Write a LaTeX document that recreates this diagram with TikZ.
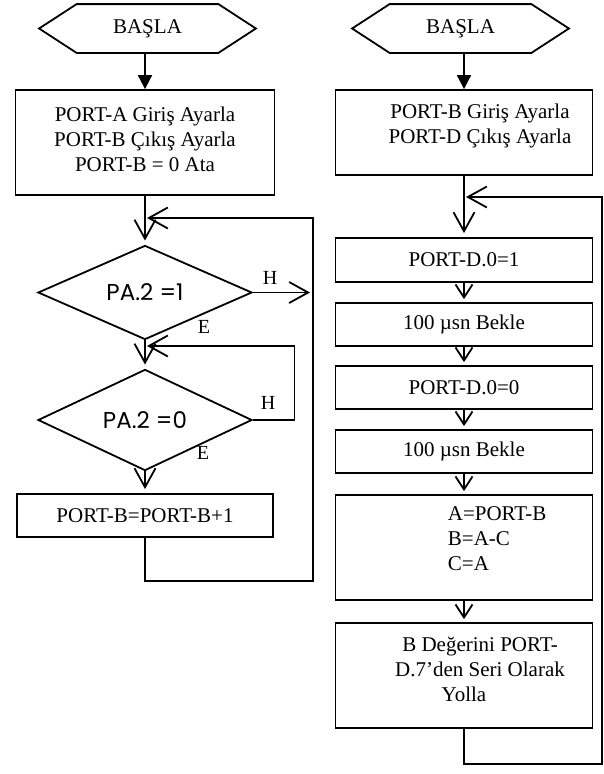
\documentclass[tikz,border=0pt]{standalone}
\usepackage{fontspec}
\setmainfont{Liberation Serif}
\newfontfamily\gothic{Poppins}
\usetikzlibrary{arrows.meta,shapes.geometric}

\begin{document}
\begin{tikzpicture}[x=1pt,y=-1pt,
  line width=1.8pt,
  every node/.style={font=\fontsize{21}{25}\selectfont},
  box/.style={draw, rectangle, inner sep=0pt},
  txt/.style={inner sep=0pt, align=center},
  decision/.style={draw, diamond, inner sep=0pt, font=\gothic\fontsize{23}{27}\selectfont},
  tag/.style={inner sep=0pt, font=\fontsize{20}{24}\selectfont},
  startbox/.style={rectangle, inner sep=0pt, minimum width=140, minimum height=47},
  filled/.style={-{Triangle[length=14pt,width=14pt]}},
  flow/.style={-{Straight Barb[length=19pt,width=21pt]}},
  small/.style={-{Straight Barb[length=13pt,width=17pt]}, shorten >=3pt},
]
\useasboundingbox (0,0) rectangle (604,774);

% ---------- left flowchart ----------
\node[startbox] (s1) at (147.5,28.5) {BAŞLA};
\draw (s1.north west) -- (s1.north east) -- ([xshift=37.5pt]s1.east)
      -- (s1.south east) -- (s1.south west) -- ([xshift=-37.5pt]s1.west) -- cycle;

\node[box, minimum width=259, minimum height=105] (b1) at (145,142.5) {};
\node[txt] (b1t) at (145,139) {PORT-A Giriş Ayarla\\PORT-B Çıkış Ayarla\\PORT-B = 0 Ata};

\coordinate (j1) at (145,218);
\node[decision, minimum width=214, minimum height=63] (d1) at (145,292.5) {PA.2 =1};
\coordinate (hend) at (310,292.5);
\coordinate (j2) at (145,346);
\node[decision, minimum width=214, minimum height=62] (d2) at (145,420) {PA.2 =0};
\node[box, minimum width=256, minimum height=43] (b2) at (145,515.5) {PORT-B=PORT-B+1};

\node[tag] (h1) at (270,278) {H};
\node[tag] (e1) at (204,327) {E};
\node[tag] (h2) at (268,403) {H};
\node[tag] (e2) at (203,453) {E};

\draw[filled] (s1.south -| b1.north) -- (b1.north);
\draw (b1.south) -- (j1);
\draw[flow, shorten >=4pt] (j1) -- (d1.north);
\draw[flow] (d1.east) -- (hend);
\draw (d1.south) -- (j2);
\draw[flow, shorten >=4pt] (j2) -- (d2.north);
\draw[flow, shorten >=4pt] (d2.south) -- (b2.north);
\draw[flow, shorten >=2pt] (d2.east) -- ++(41.5,0) |- (j2);
\draw[flow, shorten >=2pt] (b2.south) -- ++(0,43) -- ++(168,0) |- (j1);

% ---------- right flowchart ----------
\node[startbox] (s2) at (460.5,28.5) {BAŞLA};
\draw (s2.north west) -- (s2.north east) -- ([xshift=37.5pt]s2.east)
      -- (s2.south east) -- (s2.south west) -- ([xshift=-37.5pt]s2.west) -- cycle;

\node[box, minimum width=257, minimum height=85] (b3) at (464,132.5) {};
\node[txt] (b3t) at (480,126) {PORT-B Giriş Ayarla\\PORT-D Çıkış Ayarla};

\coordinate (j3) at (464,197);
\node[box, minimum width=257, minimum height=44] (c1) at (464,260) {PORT-D.0=1};
\node[box, minimum width=257, minimum height=43] (c2) at (464,324.5) {100 µsn Bekle};
\node[box, minimum width=257, minimum height=43] (c3) at (464,387.5) {PORT-D.0=0};
\node[box, minimum width=257, minimum height=43] (c4) at (464,451.5) {100 µsn Bekle};
\node[box, minimum width=257, minimum height=105] (c5) at (464,547.5) {};
\node[txt, align=left, anchor=west] (c5t) at (447,539) {A=PORT-B\\B=A-C\\C=A};
\node[box, minimum width=257, minimum height=105] (c6) at (464,675.5) {};
\node[txt] (c6t) at (464,669) {\hspace*{32pt}B Değerini PORT-\\\hspace*{32pt}D.7’den Seri Olarak\\Yolla};

\draw[filled] (s2.south -| b3.north) -- (b3.north);
\draw (b3.south) -- (j3);
\draw[flow, shorten >=4pt] (j3) -- (c1.north);
\draw[small] (c1.south) -- (c2.north);
\draw[small] (c2.south) -- (c3.north);
\draw[small] (c3.south) -- (c4.north);
\draw[small] (c4.south) -- (c5.north);
\draw[small] (c5.south) -- (c6.north);
\draw[flow, shorten >=2pt] (c6.south) -- ++(0,35) -- ++(138,0) |- (j3);
\end{tikzpicture}
\end{document}
